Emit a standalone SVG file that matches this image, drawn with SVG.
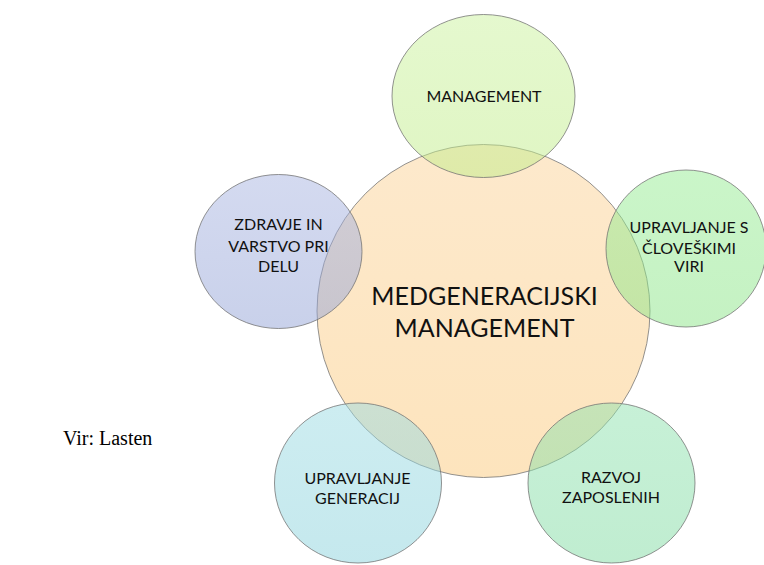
<svg xmlns="http://www.w3.org/2000/svg" width="764" height="565" viewBox="0 0 764 565">
<style>
.c{stroke:#6f6f6f;stroke-opacity:0.75;stroke-width:1}
.t{font-family:Lato,"Open Sans",sans-serif;fill:#111;text-anchor:middle}
.s{font-size:16px}
.b{font-size:25px}
.v{font-family:"Liberation Serif","Times New Roman",serif;font-size:20px;fill:#000}
</style>
<defs>
<linearGradient id="gP" x1="0" y1="0" x2="0" y2="1"><stop offset="0" stop-color="#fde9cc"/><stop offset="1" stop-color="#fde4bd"/></linearGradient>
<linearGradient id="gM" x1="0" y1="0" x2="0" y2="1"><stop offset="0" stop-color="#cbf29e"/><stop offset="1" stop-color="#c0ec88"/></linearGradient>
<linearGradient id="gZ" x1="0" y1="0" x2="0" y2="1"><stop offset="0" stop-color="#a9b5e1"/><stop offset="1" stop-color="#93a3d6"/></linearGradient>
<linearGradient id="gR" x1="0" y1="0" x2="0" y2="1"><stop offset="0" stop-color="#96ec93"/><stop offset="1" stop-color="#8be487"/></linearGradient>
<linearGradient id="gG" x1="0" y1="0" x2="0" y2="1"><stop offset="0" stop-color="#9cdbe3"/><stop offset="1" stop-color="#8bd2dc"/></linearGradient>
<linearGradient id="gD" x1="0" y1="0" x2="0" y2="1"><stop offset="0" stop-color="#8fe2af"/><stop offset="1" stop-color="#81dba2"/></linearGradient>
</defs>
<g id="center">
<circle class="c" cx="483.5" cy="311" r="166.5" fill="url(#gP)"/>
<text class="t b" x="484.5" y="305">MEDGENERACIJSKI</text>
<text class="t b" x="484.5" y="337">MANAGEMENT</text>
</g>
<g id="management">
<ellipse class="c" cx="483.5" cy="96" rx="91.5" ry="81.5" fill="url(#gM)" fill-opacity="0.5"/>
<text class="t s" x="484" y="102">MANAGEMENT</text>
</g>
<g id="zdravje">
<ellipse class="c" cx="278.5" cy="251.5" rx="83.5" ry="77" fill="url(#gZ)" fill-opacity="0.5"/>
<text class="t s" x="278.5" y="230">ZDRAVJE IN</text>
<text class="t s" x="278.5" y="251.5">VARSTVO PRI</text>
<text class="t s" x="278.5" y="272">DELU</text>
</g>
<g id="cloveski">
<ellipse class="c" cx="686" cy="248.5" rx="80" ry="78.5" fill="url(#gR)" fill-opacity="0.5"/>
<text class="t s" x="689" y="233">UPRAVLJANJE S</text>
<text class="t s" x="689" y="254">ČLOVEŠKIMI</text>
<text class="t s" x="689" y="271.5">VIRI</text>
</g>
<g id="generacij">
<ellipse class="c" cx="358" cy="483" rx="83.5" ry="80" fill="url(#gG)" fill-opacity="0.5"/>
<text class="t s" x="357.5" y="483.5">UPRAVLJANJE</text>
<text class="t s" x="357.5" y="504">GENERACIJ</text>
</g>
<g id="razvoj">
<ellipse class="c" cx="611.5" cy="483" rx="83.5" ry="80" fill="url(#gD)" fill-opacity="0.5"/>
<text class="t s" x="611" y="482.5">RAZVOJ</text>
<text class="t s" x="611" y="502.5">ZAPOSLENIH</text>
</g>
<g id="connectors"/>
<text class="v" x="63" y="445">Vir: Lasten</text>
</svg>
